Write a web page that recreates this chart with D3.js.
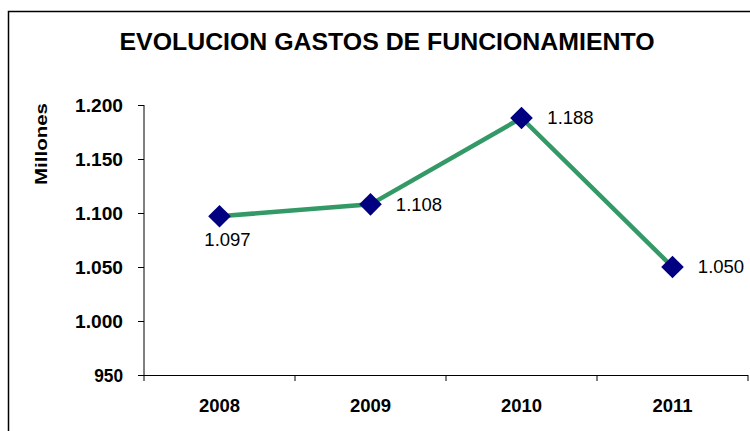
<!DOCTYPE html>
<html>
<head>
<meta charset="utf-8">
<script src="https://cdn.jsdelivr.net/npm/d3@7/dist/d3.min.js"></script>
<style>
  html, body { margin: 0; padding: 0; background: #fff; }
  svg { display: block; }
  text { font-family: "Liberation Sans", Arial, sans-serif; }
</style>
</head>
<body>
<svg id="chart" width="750" height="431"></svg>
<script>
// Operating expenses by year (millions)
const years = ["2008", "2009", "2010", "2011"];
const gastos = [1097, 1108, 1188, 1050];
const yTicks = [950, 1000, 1050, 1100, 1150, 1200];
const valueLabels = ["1.097", "1.108", "1.188", "1.050"];

const svg = d3.select("#chart");
const plot = { left: 144, right: 748, top: 105, bottom: 375 };

const fmt = v => d3.format(",")(v).replace(/,/g, ".");

// Outer frame
svg.append("rect")
  .attr("x", 8.5).attr("y", 11.5)
  .attr("width", 780).attr("height", 450)
  .attr("fill", "#fff").attr("stroke", "#000").attr("stroke-width", 1.5);

// Title
svg.append("text")
  .attr("x", 387).attr("y", 50)
  .attr("text-anchor", "middle")
  .attr("font-size", 23).attr("font-weight", "bold")
  .attr("textLength", 535).attr("lengthAdjust", "spacingAndGlyphs")
  .text("EVOLUCION GASTOS DE FUNCIONAMIENTO");

const x = d3.scaleBand().domain(years).range([plot.left, plot.right]);
const y = d3.scaleLinear().domain([950, 1200]).range([plot.bottom, plot.top]);

// Y axis
const yAxis = svg.append("g")
  .attr("transform", `translate(${plot.left},0)`)
  .call(d3.axisLeft(y).tickValues(yTicks).tickFormat(fmt).tickSize(6).tickPadding(15));
yAxis.select(".domain").attr("stroke", "#000").attr("d", `M0,${plot.top}V${plot.bottom}`);
yAxis.selectAll(".tick line").attr("stroke", "#000");
yAxis.selectAll(".tick text")
  .attr("font-size", 18).attr("font-weight", "bold")
  .attr("font-family", "Liberation Sans, Arial, sans-serif")
  .attr("fill", "#000")
  .attr("dy", "0.36em")
  .attr("textLength", d => fmt(d).length * 9.6)
  .attr("lengthAdjust", "spacingAndGlyphs");

// X axis with ticks at category boundaries
const xAxis = svg.append("g")
  .attr("transform", `translate(0,${plot.bottom})`);
xAxis.append("line")
  .attr("x1", plot.left).attr("x2", plot.right)
  .attr("y1", 0.5).attr("y2", 0.5).attr("stroke", "#000");
const bounds = years.map(d => x(d)).concat([plot.right]);
xAxis.selectAll(".xtick").data(bounds).join("line")
  .attr("x1", d => d).attr("x2", d => d)
  .attr("y1", 0).attr("y2", 6).attr("stroke", "#000");
xAxis.selectAll(".xlabel").data(years).join("text")
  .attr("x", d => x(d) + x.bandwidth() / 2)
  .attr("y", 36.5)
  .attr("text-anchor", "middle")
  .attr("font-size", 18.5).attr("font-weight", "bold")
  .text(d => d);

// Y axis title
svg.append("text")
  .attr("transform", `translate(47,144) rotate(-90)`)
  .attr("text-anchor", "middle")
  .attr("font-size", 17).attr("font-weight", "bold")
  .attr("textLength", 82).attr("lengthAdjust", "spacingAndGlyphs")
  .text("Millones");

const cx = d => x(d) + x.bandwidth() / 2;

// Line
const line = d3.line().x((d, i) => cx(years[i])).y(d => y(d));
svg.append("path")
  .datum(gastos)
  .attr("d", line)
  .attr("fill", "none")
  .attr("stroke", "#339966")
  .attr("stroke-width", 4.5);

// Diamond markers
const sym = d3.symbol().type(d3.symbolSquare).size(256);
svg.selectAll(".marker").data(gastos).join("path")
  .attr("d", sym)
  .attr("transform", (d, i) => `translate(${cx(years[i])},${y(d)}) rotate(45)`)
  .attr("fill", "#000080");

// Value labels
const labelOffsets = [[8, 30], [48.5, 6.5], [49, 6.5], [48.5, 6]];
svg.selectAll(".vlabel").data(gastos).join("text")
  .attr("x", (d, i) => cx(years[i]) + labelOffsets[i][0])
  .attr("y", (d, i) => y(d) + labelOffsets[i][1])
  .attr("text-anchor", "middle")
  .attr("font-size", 18.5)
  .text((d, i) => valueLabels[i]);
</script>
</body>
</html>
